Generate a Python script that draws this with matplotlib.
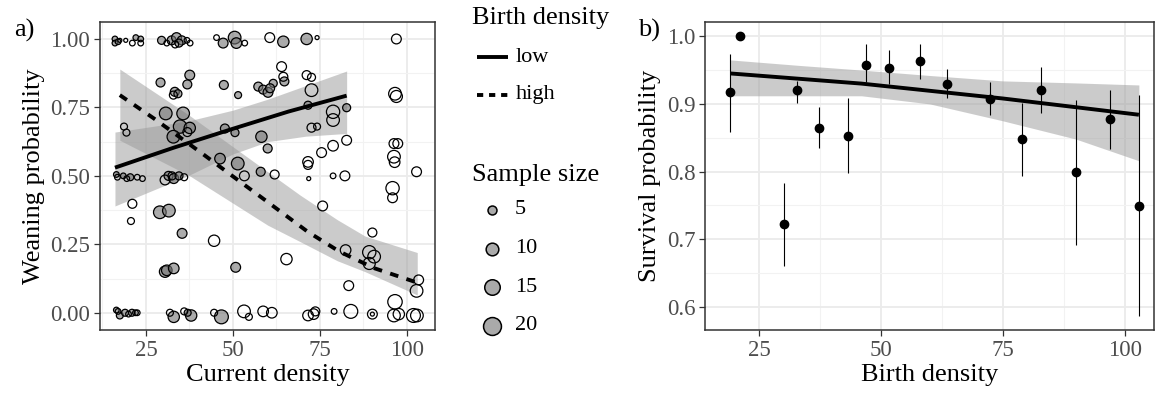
import numpy as np
import matplotlib
matplotlib.use("Agg")
import matplotlib.pyplot as plt
from matplotlib.lines import Line2D

plt.rcParams['font.family'] = ['Liberation Serif', 'DejaVu Serif']

# ---- panel a: weaning probability vs current density ----
# low birth density litters (grey points)
low_x = [16.1, 16.1, 17.0, 22.1, 23.5, 29.5, 32.4, 33.8, 35.3, 34.5, 47.2, 50.5, 51.0, 64.5, 71.2,
         37.6, 36.9, 29.2, 33.3, 34.2, 47.4, 51.5, 57.3, 58.7, 60.1, 61.6, 60.7, 64.8,
         30.7, 35.7, 34.8, 37.6, 32.9, 47.7, 50.6, 58.2, 60.0, 71.6, 82.7,
         46.3, 51.4, 58.0, 16.5, 18.5, 20.5, 31.5, 33.0, 34.5,
         29.0, 31.6, 35.4, 50.8, 30.5, 31.0, 33.0,
         16.5, 17.5, 19.0, 21.0, 22.0, 33.0, 38.0, 46.7, 37.0]
low_y = [1.00, 0.985, 0.99, 1.005, 1.0, 0.995, 0.995, 1.005, 0.995, 0.985, 0.985, 1.005, 0.985, 0.99, 1.0,
         0.868, 0.834, 0.841, 0.807, 0.80, 0.832, 0.795, 0.826, 0.815, 0.805, 0.838, 0.82, 0.845,
         0.728, 0.728, 0.68, 0.675, 0.643, 0.673, 0.658, 0.643, 0.60, 0.758, 0.749,
         0.563, 0.545, 0.515, 0.505, 0.50, 0.495, 0.50, 0.49, 0.50,
         0.367, 0.373, 0.29, 0.166, 0.15, 0.155, 0.162,
         0.01, -0.01, 0.0, 0.0, 0.0, -0.015, -0.01, -0.015, 0.0]
low_n = [2, 2, 2, 2, 2, 4, 5, 6, 5, 4, 6, 10, 7, 8, 8,
         6, 5, 5, 5, 4, 5, 3, 5, 5, 6, 4, 5, 5,
         10, 10, 11, 8, 10, 5, 4, 8, 5, 4, 4,
         7, 10, 5, 2, 2, 3, 5, 6, 4,
         10, 10, 6, 6, 8, 7, 7,
         2, 3, 3, 3, 2, 8, 8, 12, 3]

# high birth density litters (open points)
high_x = [17.5, 19.2, 21.1, 23.5, 31.0, 33.4, 36.8, 37.7, 45.3, 53.4, 60.6, 74.2, 97.0,
          32.9, 64.0, 64.5, 71.2, 72.6, 72.6, 96.6, 97.0,
          18.7, 19.4, 36.9, 78.8, 78.8, 72.6, 74.2, 82.7, 78.8, 75.5, 71.6, 71.6, 96.3, 97.4, 96.3, 96.5, 102.8,
          16.8, 19.5, 22.5, 24.0, 30.5, 32.5, 36.0, 53.3, 71.8, 78.8, 82.2, 62.0,
          21.1, 20.7, 44.6, 95.9, 95.9, 75.8, 65.4, 90.1, 82.4, 89.2, 90.6, 89.2, 103.4, 102.8, 83.3, 96.6,
          17.0, 20.0, 22.5, 31.9, 36.0, 44.6, 53.2, 54.6, 58.7, 61.2, 71.6, 73.2, 73.7, 79.1, 83.9,
          90.1, 90.1, 96.3, 97.7, 101.9, 102.9]
high_y = [0.995, 0.995, 0.985, 0.985, 0.985, 0.98, 0.995, 0.985, 1.005, 0.985, 1.005, 1.005, 1.0,
          0.795, 0.899, 0.862, 0.868, 0.86, 0.813, 0.80, 0.79,
          0.68, 0.658, 0.66, 0.734, 0.704, 0.676, 0.68, 0.63, 0.61, 0.585, 0.551, 0.54, 0.618, 0.618, 0.57, 0.55, 0.515,
          0.495, 0.49, 0.495, 0.49, 0.485, 0.50, 0.495, 0.50, 0.49, 0.50, 0.50, 0.505,
          0.398, 0.335, 0.263, 0.455, 0.42, 0.39, 0.196, 0.293, 0.229, 0.221, 0.205, 0.18, 0.12, 0.08, 0.099, 0.04,
          0.005, -0.005, 0.0, 0.0, 0.005, 0.0, 0.005, -0.015, 0.005, 0.0, -0.01, -0.005, 0.005, 0.005, 0.005,
          -0.005, -0.005, -0.01, -0.005, -0.01, -0.01]
high_n = [1, 1, 2, 2, 2, 3, 2, 2, 2, 2, 6, 1, 6,
          4, 6, 5, 5, 4, 10, 10, 9,
          3, 3, 5, 11, 10, 5, 3, 6, 7, 6, 7, 5, 6, 6, 10, 7, 6,
          2, 2, 2, 2, 6, 4, 3, 6, 1, 2, 6, 5,
          5, 3, 8, 11, 6, 6, 8, 5, 7, 11, 10, 9, 6, 10, 6, 13,
          2, 2, 2, 3, 3, 3, 10, 3, 7, 7, 7, 7, 5, 2, 12,
          6, 1, 10, 8, 12, 10]

# fitted curves and 95% bands
low_fit_x = [16.1, 33.0, 50.0, 66.0, 82.7]
low_fit_y = [0.53, 0.603, 0.672, 0.735, 0.793]
low_band_x = [16.1, 37.0, 50.0, 60.0, 71.0, 82.7]
low_band_lo = [0.39, 0.50, 0.58, 0.625, 0.645, 0.655]
low_band_hi = [0.66, 0.70, 0.74, 0.78, 0.83, 0.883]

high_fit_x = [17.5, 27.6, 40.5, 49.6, 59.2, 71.5, 80.7, 90.8, 103.0]
high_fit_y = [0.795, 0.707, 0.588, 0.502, 0.412, 0.296, 0.223, 0.162, 0.11]
high_band_x = [17.5, 37.6, 60.0, 69.3, 80.0, 88.0, 103.0]
high_band_lo = [0.63, 0.50, 0.32, 0.26, 0.19, 0.15, 0.065]
high_band_hi = [0.89, 0.72, 0.515, 0.43, 0.34, 0.28, 0.22]

# ---- panel b: survival probability vs birth density ----
birth_x = [19.1, 21.1, 30.1, 32.8, 37.2, 43.3, 46.9, 51.6, 58.0, 63.5, 72.3, 78.9, 82.9, 90.0, 96.9, 102.9]
surv = [0.917, 1.0, 0.722, 0.921, 0.865, 0.853, 0.958, 0.953, 0.963, 0.930, 0.907, 0.848, 0.921, 0.799, 0.877, 0.749]
surv_lo = [0.858, 1.0, 0.660, 0.902, 0.835, 0.798, 0.932, 0.930, 0.937, 0.908, 0.883, 0.794, 0.886, 0.692, 0.833, 0.586]
surv_hi = [0.974, 1.0, 0.783, 0.934, 0.895, 0.909, 0.988, 0.980, 0.989, 0.951, 0.932, 0.902, 0.955, 0.906, 0.921, 0.913]

surv_fit_x = [19.1, 46.0, 75.0, 102.9]
surv_fit_y = [0.945, 0.930, 0.908, 0.884]
surv_band_x = [19.1, 33.0, 46.0, 60.0, 75.0, 90.0, 102.9]
surv_band_lo = [0.912, 0.912, 0.912, 0.900, 0.875, 0.848, 0.816]
surv_band_hi = [0.965, 0.957, 0.950, 0.942, 0.934, 0.931, 0.928]

legend_sizes = [5, 10, 15, 20]


def size_of(n):
    return 8.3 * np.asarray(n, dtype=float)


def bw_axes(ax, xmaj, xmin, ymaj, ymin):
    ax.set_xticks(xmaj)
    ax.set_xticks(xmin, minor=True)
    ax.set_yticks(ymaj)
    ax.set_yticks(ymin, minor=True)
    ax.grid(True, which='major', color='#ebebeb', lw=1.3, zorder=0)
    ax.grid(True, which='minor', color='#f2f2f2', lw=0.8, zorder=0)
    ax.tick_params(which='minor', length=0)
    ax.tick_params(which='major', length=4, width=0.9, colors='#333333',
                   labelcolor='#4d4d4d', labelsize=16.5, pad=3)
    for s in ax.spines.values():
        s.set_color('#333333')
        s.set_linewidth(1.1)
    ax.set_axisbelow(True)


fig = plt.figure(figsize=(11.55, 3.95), dpi=100)

# panel a
ax1 = fig.add_axes([100 / 1155, 65 / 395, 335 / 1155, 308 / 395])
ax1.fill_between(low_band_x, low_band_lo, low_band_hi, color='#999999', alpha=0.5, lw=0, zorder=2)
ax1.fill_between(high_band_x, high_band_lo, high_band_hi, color='#999999', alpha=0.5, lw=0, zorder=2)
ax1.scatter(low_x, low_y, s=size_of(low_n), facecolors=[(0.45, 0.45, 0.45, 0.6)],
            edgecolors='black', linewidths=0.9, zorder=3)
ax1.scatter(high_x, high_y, s=size_of(high_n), facecolors='none',
            edgecolors='black', linewidths=0.9, zorder=3)
ax1.plot(low_fit_x, low_fit_y, color='black', lw=2.8, solid_capstyle='butt', zorder=4)
ax1.plot(high_fit_x, high_fit_y, color='black', lw=2.8, dashes=(2.2, 2.2), zorder=4)
ax1.set_xlim(11.8, 108.1)
ax1.set_ylim(-0.063, 1.062)
bw_axes(ax1, [25, 50, 75, 100], [12.5, 37.5, 62.5, 87.5],
        [0, 0.25, 0.5, 0.75, 1.0], [0.125, 0.375, 0.625, 0.875])
ax1.set_yticklabels(['0.00', '0.25', '0.50', '0.75', '1.00'])
ax1.set_xlabel('Current density', fontsize=19, labelpad=2)
ax1.set_ylabel('Weaning probability', fontsize=19, labelpad=4)
fig.text(14 / 1155, 1 - 30 / 395, 'a)', fontsize=19, va='center', ha='left')

# panel b
ax2 = fig.add_axes([705 / 1155, 65 / 395, 449 / 1155, 308 / 395])
ax2.fill_between(surv_band_x, surv_band_lo, surv_band_hi, color='#999999', alpha=0.5, lw=0, zorder=2)
err_lo = np.array(surv) - np.array(surv_lo)
err_hi = np.array(surv_hi) - np.array(surv)
ax2.errorbar(birth_x, surv, yerr=[err_lo, err_hi], fmt='none', ecolor='black', elinewidth=0.8,
             capsize=0, zorder=3)
ax2.plot(surv_fit_x, surv_fit_y, color='black', lw=2.8, solid_capstyle='butt', zorder=4)
ax2.scatter(birth_x, surv, s=36, color='black', zorder=5)
ax2.set_xlim(13.9, 106.0)
ax2.set_ylim(0.566, 1.021)
bw_axes(ax2, [25, 50, 75, 100], [37.5, 62.5, 87.5],
        [0.6, 0.7, 0.8, 0.9, 1.0], [0.65, 0.75, 0.85, 0.95])
ax2.set_yticklabels(['0.6', '0.7', '0.8', '0.9', '1.0'])
ax2.set_xlabel('Birth density', fontsize=19, labelpad=2)
ax2.set_ylabel('Survival probability', fontsize=19, labelpad=4)
fig.text(638 / 1155, 1 - 30 / 395, 'b)', fontsize=19, va='center', ha='left')

# legends (drawn in figure pixel space)
lg = fig.add_axes([0, 0, 1, 1], facecolor='none')
lg.set_xlim(0, 1155)
lg.set_ylim(395, 0)
lg.axis('off')
lg.text(472, 18, 'Birth density', fontsize=19, va='center', ha='left')
lg.add_line(Line2D([477, 508], [57, 57], color='black', lw=2.8, solid_capstyle='butt'))
lg.text(516, 57, 'low', fontsize=16, va='center', ha='left')
lg.add_line(Line2D([477, 508], [95, 95], color='black', lw=2.8, dashes=(1.6, 1.5)))
lg.text(516, 95, 'high', fontsize=16, va='center', ha='left')
lg.text(472, 175, 'Sample size', fontsize=19, va='center', ha='left')
for i, n in enumerate(legend_sizes):
    yy = 210 + i * 38.5
    lg.scatter([492], [yy], s=size_of(n), facecolors='#aaaaaa', edgecolors='black', linewidths=1.1)
    lg.text(515, yy, str(n), fontsize=16, va='center', ha='left')

fig.savefig('out.png', dpi=100)
